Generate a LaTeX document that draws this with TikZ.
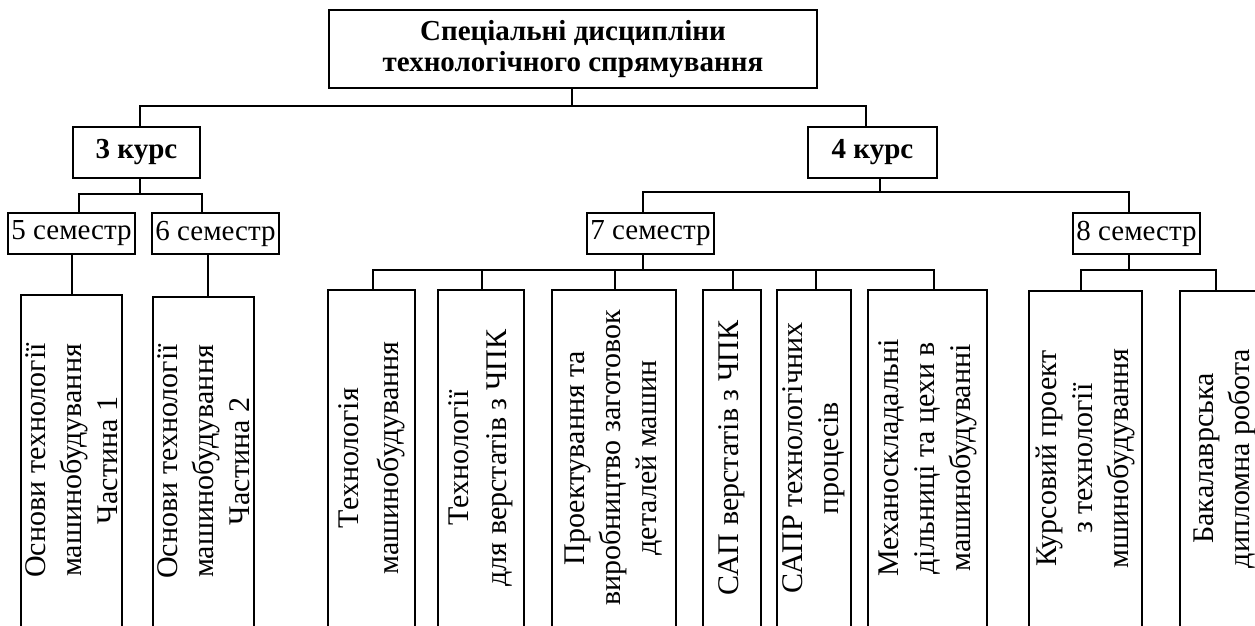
\documentclass[tikz,border=0pt]{standalone}
\usepackage{fontspec}
\setmainfont{Liberation Serif}
\begin{document}
\begin{tikzpicture}[x=1pt,y=-1pt,
  box/.style={draw, line width=1.5pt, inner sep=0pt, align=center, font=\fontsize{29}{34}\selectfont},
  bbox/.style={box, font=\fontsize{29}{31}\selectfont\bfseries},
  tall/.style={inner sep=0pt, align=center, rotate=90, font=\fontsize{30}{36}\selectfont},
  frame/.style={line width=1.5pt},
  conn/.style={line width=1.4pt}]
\useasboundingbox (0,0) rectangle (1255,625);
\clip (0,0) rectangle (1255,625);
% top level
\node[bbox, minimum width=488, minimum height=78] (top) at (573,49) {Спеціальні дисципліни\\технологічного спрямування};
\node[bbox, minimum width=127, minimum height=51] (k3) at (136.5,152.5) {3 курс};
\node[bbox, minimum width=129, minimum height=51] (k4) at (872.5,152.5) {4 курс};
% semesters
\node[box, minimum width=127, minimum height=41] (s5) at (71.5,233.5) {5 семестр};
\node[box, minimum width=127, minimum height=41] (s6) at (215.5,233.5) {6 семестр};
\node[box, minimum width=127, minimum height=41] (s7) at (650.5,233.5) {7 семестр};
\node[box, minimum width=127, minimum height=41] (s8) at (1136.5,233.5) {8 семестр};
% tall boxes (open at the bottom, which lies below the picture)
\node[tall, minimum width=331, minimum height=101] (b1) at (71.5,460.5) {Основи технології\\машинобудування\\Частина 1};
\node[tall, minimum width=329, minimum height=101] (b2) at (203.5,461.5) {Основи технології\\машинобудування\\Частина 2};
\node[tall, minimum width=336, minimum height=87, font=\fontsize{30}{40}\selectfont] (b3) at (371.5,458) {Технологія\\машинобудування};
\node[tall, minimum width=336, minimum height=86, font=\fontsize{30}{38}\selectfont] (b4) at (481,458) {Технології\\для верстатів з ЧПК};
\node[tall, minimum width=336, minimum height=124] (b5) at (614,458) {Проектування та\\виробництво заготовок\\деталей машин};
\node[tall, minimum width=336, minimum height=58] (b6) at (732,458) {САП верстатів з ЧПК};
\node[tall, minimum width=336, minimum height=74] (b7) at (814,458) {САПР технологічних\\процесів};
\node[tall, minimum width=336, minimum height=119] (b8) at (927.5,458) {Механоскладальні\\дільниці та цехи в\\машинобудуванні};
\node[tall, minimum width=335, minimum height=113] (b9) at (1085.5,458.5) {Курсовий проект\\з технології\\мшинобудування};
\node[tall, minimum width=335, minimum height=90] (b10) at (1225,458.5) {Бакалаврська\\дипломна робота};
\foreach \n in {b1,b2,b3,b4,b5,b6,b7,b8,b9,b10}
  \draw[frame] (\n.north west) -- (\n.north east) -- (\n.south east) -- (\n.south west);
% connectors
\draw[conn] (top.south -| 572,0) -- (572,106);
\draw[conn] (k3.north -| 140,0) -- (140,106) -- (866,106) -- (k4.north -| 866,0);
\draw[conn] (k3.south -| 140,0) -- (140,194);
\draw[conn] (s5.north -| 79,0) -- (79,194) -- (202,194) -- (s6.north -| 202,0);
\draw[conn] (s5.south -| 72,0) -- (b1.east -| 72,0);
\draw[conn] (s6.south -| 208,0) -- (b2.east -| 208,0);
\draw[conn] (k4.south -| 880,0) -- (880,192);
\draw[conn] (s7.north -| 643,0) -- (643,192) -- (1129,192) -- (s8.north -| 1129,0);
\draw[conn] (s7.south -| 643,0) -- (643,270);
\draw[conn] (b3.east -| 373,0) -- (373,270) -- (934,270) -- (b8.east -| 934,0);
\draw[conn] (b4.east -| 482,0) -- (482,270);
\draw[conn] (b5.east -| 615,0) -- (615,270);
\draw[conn] (b6.east -| 733,0) -- (733,270);
\draw[conn] (b7.east -| 816,0) -- (816,270);
\draw[conn] (s8.south -| 1129,0) -- (1129,270);
\draw[conn] (b9.east -| 1081,0) -- (1081,270) -- (1216,270) -- (b10.east -| 1216,0);
\end{tikzpicture}
\end{document}
